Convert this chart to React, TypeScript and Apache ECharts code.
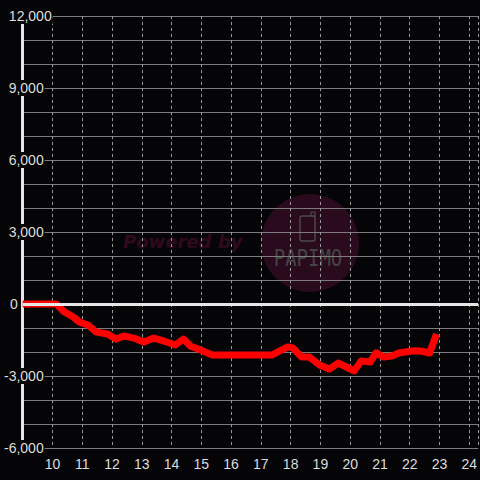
import React, { useEffect, useRef } from "react";
import * as echarts from "echarts";

const hours = [9, 10.13, 10.4, 10.7, 10.9, 11.2, 11.47, 11.85, 12.13, 12.4, 12.73, 13.07, 13.4, 13.73, 14.13, 14.4, 14.63, 14.97, 15.37, 17.37, 17.9, 18.07, 18.37, 18.63, 18.97, 19.3, 19.6, 19.87, 20.13, 20.37, 20.67, 20.87, 21.13, 21.4, 21.63, 22.07, 22.37, 22.67, 22.9];
const values = [0, 0, -330, -540, -750, -880, -1170, -1250, -1460, -1330, -1420, -1580, -1420, -1540, -1710, -1460, -1750, -1920, -2125, -2125, -1790, -1830, -2210, -2210, -2540, -2710, -2460, -2625, -2790, -2375, -2420, -2040, -2210, -2170, -2040, -1960, -1960, -2040, -1250];

const X_MIN = 9;
const X_MAX = 24.3;
const Y_MIN = -6000;
const Y_MAX = 12000;
const BG = "#050507";

export default function App() {
  const ref = useRef<HTMLDivElement>(null);
  useEffect(() => {
    document.body.style.margin = "0";
    document.body.style.background = BG;
    const chart = echarts.init(ref.current!, null, { renderer: "svg" });
    const data = hours.map((h, i) => [h, values[i]]);
    chart.setOption({
      animation: false,
      backgroundColor: BG,
      grid: { left: 21, right: 0, top: 16, bottom: 32 },
      xAxis: {
        type: "value",
        min: X_MIN,
        max: X_MAX,
        interval: 1,
        axisLine: { show: false },
        axisTick: { show: false },
        axisLabel: {
          showMinLabel: false,
          showMaxLabel: false,
          color: "#dddddd",
          fontSize: 14,
          fontFamily: "Liberation Sans",
          margin: 9,
          formatter: (v: number) => (Number.isInteger(v) ? String(v) : ""),
        },
        splitLine: {
          show: true,
          lineStyle: { color: "#9a9a9a", width: 1, type: [3, 3] },
        },
      },
      yAxis: [
        {
          type: "value",
          min: Y_MIN,
          max: Y_MAX,
          interval: 1000,
          axisLine: { show: false },
          axisTick: { show: false },
          axisLabel: { show: false },
          splitLine: { show: true, lineStyle: { color: "#7c7c7c", width: 1 } },
        },
        {
          type: "value",
          position: "left",
          min: Y_MIN,
          max: Y_MAX,
          interval: 3000,
          axisLine: { show: true, onZero: false, lineStyle: { color: "#e6e6e6", width: 3 } },
          axisTick: { show: false },
          splitLine: { show: false },
          axisLabel: {
            show: true,
            align: "right",
            margin: -30,
            color: "#dddddd",
            fontSize: 14,
            fontFamily: "Liberation Sans",
            formatter: (v: number) => {
              const s = v.toLocaleString("en-US");
              if (v === 0) return "{z|0}{p0| }";
              if (v === Y_MAX) return `{b|${s}}`;
              return `{b|${s}}{p| }`;
            },
            rich: {
              b: { backgroundColor: BG, padding: [1, 1], color: "#dddddd", fontSize: 14, fontFamily: "Liberation Sans" },
              z: { color: "#dddddd", fontSize: 14, fontFamily: "Liberation Sans" },
              p: { width: 8 },
              p0: { width: 35 },
            },
          },
        },
      ],
      graphic: [
        {
          type: "circle",
          z: -1,
          shape: { cx: 310, cy: 243, r: 49 },
          style: { fill: "#2a0a1d" },
          silent: true,
        },
        {
          type: "text",
          z: -1,
          x: 123,
          y: 241,
          style: {
            text: "Powered by",
            fill: "#31091d",
            font: "italic bold 18px 'DejaVu Sans'",
            verticalAlign: "middle",
          },
          silent: true,
        },
        {
          type: "rect",
          z: -1,
          shape: { x: 300, y: 216, width: 15, height: 25, r: 2 },
          style: { fill: "none", stroke: "#4a4a4a", lineWidth: 1.5 },
          silent: true,
        },
        {
          type: "rect",
          z: -1,
          shape: { x: 311, y: 212, width: 4, height: 4 },
          style: { fill: "none", stroke: "#4a4a4a", lineWidth: 1.2 },
          silent: true,
        },
        {
          type: "text",
          z: -1,
          x: 308,
          y: 258,
          scaleY: 1.2,
          style: {
            text: "PAPIMO",
            fill: "#444444",
            font: "19px 'DejaVu Sans Mono'",
            align: "center",
            verticalAlign: "middle",
          },
          silent: true,
        },
      ],
      series: [
        {
          type: "line",
          data: [],
          z: 1,
          silent: true,
          markLine: {
            silent: true,
            symbol: "none",
            label: { show: false },
            lineStyle: { color: "#e6e6e6", width: 3, type: "solid" },
            data: [{ yAxis: 0 }],
          },
        },
        {
          type: "line",
          data,
          z: 3,
          showSymbol: false,
          symbol: "none",
          lineStyle: { color: "#ff0000", width: 7, join: "round" },
        },
      ],
    });
    return () => chart.dispose();
  }, []);
  return (
    <div
      ref={ref}
      style={{ position: "fixed", left: 0, top: 0, width: 480, height: 480 }}
    />
  );
}
